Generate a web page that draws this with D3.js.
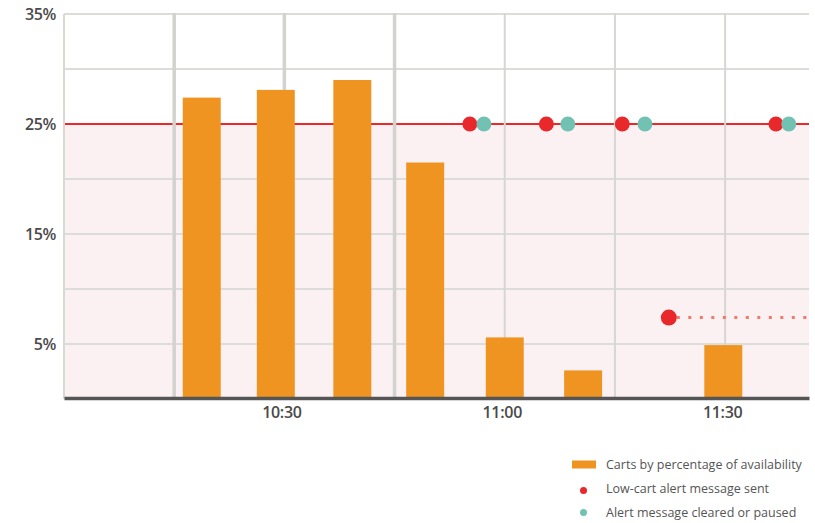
<!DOCTYPE html>
<html><head><meta charset="utf-8">
<script src="https://cdn.jsdelivr.net/npm/d3@7"></script>
<style>
html,body{margin:0;padding:0;background:#fff;}
svg{display:block;font-family:"Open Sans",sans-serif;}
</style></head>
<body><svg id="c" width="815" height="523"></svg>
<script>
// ---- data ----
const barTimes = ["10:18:45","10:28:50","10:39:15","10:49:10","11:00:00","11:10:40","11:29:45"];
const barValues = [27.4, 28.1, 29.0, 21.5, 5.6, 2.6, 4.9];
const sentTimes = ["10:55:15","11:05:40","11:16:00","11:36:55"];
const clearedTimes = ["10:57:10","11:08:35","11:19:05","11:38:40"];
const thresholdValue = 25;
const pendingTime = "11:22:20";
const pendingValue = 7.4;
const yTickValues = [5, 15, 25, 35];
const yGridValues = [5, 10, 15, 20, 25, 30, 35];
const xTickLabels = ["10:30", "11:00", "11:30"];
const gridTimes = ["10:15","10:30","10:45","11:00","11:15","11:30"];
const legendLabels = ["Carts by percentage of availability","Low-cart alert message sent","Alert message cleared or paused"];

// ---- setup ----
const parseS = d3.timeParse("%H:%M:%S");
const parseM = d3.timeParse("%H:%M");
const svg = d3.select("#c");
const L = 64, R = 809, T = 14, B = 399;
const x = d3.scaleTime().domain([parseM("10:00"), parseS("11:41:25")]).range([L, R]);
const y = d3.scaleLinear().domain([0, 35]).range([B, T]);
const orange = "#ef9321", red = "#e8282b", teal = "#72c2b4";

// pink zone
svg.append("rect").attr("x", L).attr("y", y(thresholdValue))
  .attr("width", R - L).attr("height", y(0) - y(thresholdValue)).attr("fill", "#fbf1f2");

// horizontal grid
svg.append("g").selectAll("line").data(yGridValues).join("line")
  .attr("x1", L).attr("x2", R).attr("y1", d => y(d)).attr("y2", d => y(d))
  .attr("stroke", "#dcdcd8").attr("stroke-width", 2);

// threshold line
svg.append("line").attr("x1", L).attr("x2", R)
  .attr("y1", y(thresholdValue)).attr("y2", y(thresholdValue))
  .attr("stroke", red).attr("stroke-width", 2.2);

// left border
svg.append("line").attr("x1", L).attr("x2", L).attr("y1", T).attr("y2", B)
  .attr("stroke", "#d8d8d4").attr("stroke-width", 2);

// vertical grid
svg.append("g").selectAll("line").data(gridTimes).join("line")
  .attr("x1", d => x(parseM(d))).attr("x2", d => x(parseM(d)))
  .attr("y1", T - 1).attr("y2", B)
  .attr("stroke", (d, i) => i < 3 ? "#d2d2ce" : "#d6d6d2")
  .attr("stroke-width", (d, i) => i < 3 ? 3.5 : 2);

// bars
const bw = x(parseS("10:05:10")) - x(parseM("10:00"));
svg.append("g").selectAll("rect").data(barTimes).join("rect")
  .attr("x", d => x(parseS(d)) - bw / 2)
  .attr("width", bw)
  .attr("y", (d, i) => y(barValues[i]))
  .attr("height", (d, i) => y(0) - y(barValues[i]))
  .attr("fill", orange);

// pending alert dotted line
svg.append("line").attr("x1", x(parseS(pendingTime)) + 8).attr("x2", R)
  .attr("y1", y(pendingValue)).attr("y2", y(pendingValue))
  .attr("stroke", "#f27a68").attr("stroke-width", 3)
  .attr("stroke-dasharray", "3,8.5");
svg.append("circle").attr("cx", x(parseS(pendingTime))).attr("cy", y(pendingValue))
  .attr("r", 8).attr("fill", red);

// alert dots
svg.append("g").selectAll("circle").data(sentTimes).join("circle")
  .attr("cx", d => x(parseS(d))).attr("cy", y(thresholdValue)).attr("r", 7.5).attr("fill", red);
svg.append("g").selectAll("circle").data(clearedTimes).join("circle")
  .attr("cx", d => x(parseS(d))).attr("cy", y(thresholdValue)).attr("r", 7.5).attr("fill", teal);

// x axis
const xAxis = d3.axisBottom(x)
  .tickValues(xTickLabels.map(parseM))
  .tickFormat(d3.timeFormat("%H:%M"))
  .tickSize(0).tickPadding(9);
const gx = svg.append("g").attr("transform", `translate(0,${B - 1})`).call(xAxis);
gx.select(".domain").attr("stroke", "#555").attr("stroke-width", 3.5);
gx.selectAll("text").attr("fill", "#4a4a4a").attr("font-size", 16).attr("font-weight", 600)
  .attr("font-family", "'Open Sans',sans-serif").attr("letter-spacing", "-0.3px").attr("dx", -3);

// y axis labels
const yAxis = d3.axisLeft(y).tickValues(yTickValues).tickFormat(d => d + "%").tickSize(0).tickPadding(8);
const gy = svg.append("g").attr("transform", `translate(${L},0)`).call(yAxis);
gy.select(".domain").remove();
gy.selectAll("text").attr("fill", "#4a4a4a").attr("font-size", 16).attr("font-weight", 600)
  .attr("font-family", "'Open Sans',sans-serif").attr("letter-spacing", "-0.4px");

// legend
const lg = svg.append("g");
lg.append("rect").attr("x", 572).attr("y", 460.5).attr("width", 24).attr("height", 8).attr("fill", orange);
lg.append("circle").attr("cx", 583.5).attr("cy", 490.5).attr("r", 3.5).attr("fill", red);
lg.append("circle").attr("cx", 583.5).attr("cy", 512.5).attr("r", 3.5).attr("fill", teal);
lg.selectAll("text").data(legendLabels).join("text")
  .attr("x", 606).attr("y", (d, i) => 464.5 + i * 24.3)
  .attr("dy", "0.35em")
  .attr("font-size", 12.5).attr("fill", "#555")
  .text(d => d);
</script></body></html>
